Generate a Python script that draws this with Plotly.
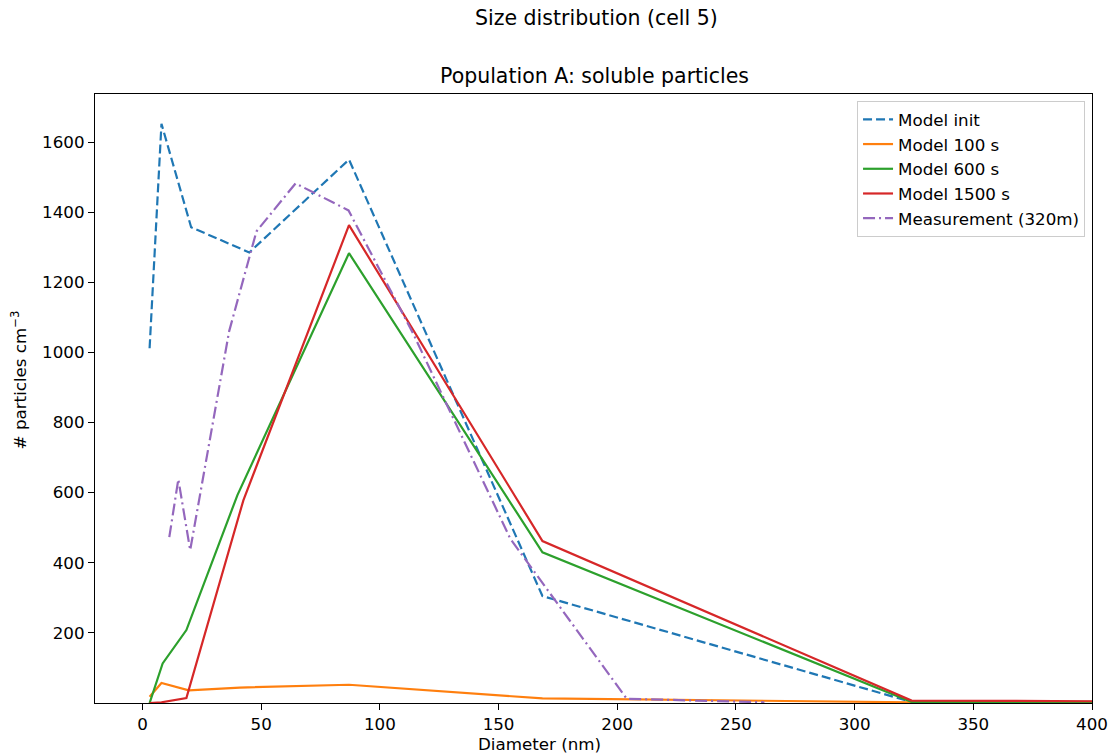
import plotly.graph_objects as go

# Data (diameter in nm, number concentration in particles cm^-3)
init_x = [3, 8, 20.5, 45, 87, 168.5, 324, 400]
init_y = [1012, 1652, 1357, 1285, 1550, 305, 3, 1]

m100_x = [3, 8, 19.5, 41, 87, 168.5, 324, 400]
m100_y = [18, 57, 36, 44, 52, 13, 2, 1]

m600_x = [3, 8.5, 18.5, 40, 87, 168.5, 324, 400]
m600_y = [0, 113, 208, 593, 1283, 430, 3, 3]

m1500_x = [3, 8, 18.5, 42.5, 87, 168.5, 324, 400]
m1500_y = [0, 2, 14, 578, 1363, 462, 7, 5]

meas_x = [11.3, 15.1, 20.1, 36.5, 48, 64.5, 86.8, 114, 155, 204, 262]
meas_y = [473, 638, 436, 1060, 1345, 1482, 1405, 1054, 468, 12, 2]

x_ticks = [0, 50, 100, 150, 200, 250, 300, 350, 400]
y_ticks = [200, 400, 600, 800, 1000, 1200, 1400, 1600]

FONT = "DejaVu Sans"
TICK = 16.7
TITLE = 20.5

L, R, T, B = 95, 23, 94, 53
W, H = 1120, 756
PW, PH = W - L - R, H - T - B


def px(xp):
    return (xp - L) / PW


def py(yp):
    return (H - B - yp) / PH


fig = go.Figure()
fig.add_trace(go.Scatter(x=init_x, y=init_y, mode="lines", name="Model init",
                         line=dict(color="#1f77b4", width=2.2, dash="9px,4px")))
fig.add_trace(go.Scatter(x=m100_x, y=m100_y, mode="lines", name="Model 100 s",
                         line=dict(color="#ff7f0e", width=2.2)))
fig.add_trace(go.Scatter(x=m600_x, y=m600_y, mode="lines", name="Model 600 s",
                         line=dict(color="#2ca02c", width=2.2)))
fig.add_trace(go.Scatter(x=m1500_x, y=m1500_y, mode="lines", name="Model 1500 s",
                         line=dict(color="#d62728", width=2.2)))
fig.add_trace(go.Scatter(x=meas_x, y=meas_y, mode="lines", name="Measurement (320m)",
                         line=dict(color="#9467bd", width=2.2, dash="12px,4px,2px,4px")))

axis_common = dict(showline=True, linecolor="black", linewidth=1.2, mirror=True,
                   ticks="outside", ticklen=6, tickcolor="black", tickwidth=1.2,
                   showgrid=False, zeroline=False,
                   tickfont=dict(family=FONT, size=TICK, color="black"))

fig.update_layout(
    width=W, height=H,
    margin=dict(l=L, r=R, t=T, b=B),
    paper_bgcolor="white", plot_bgcolor="white",
    font=dict(family=FONT, color="black"),
    xaxis=dict(range=[-20, 400], tickvals=x_ticks, **axis_common),
    yaxis=dict(range=[0, 1737], tickvals=y_ticks, **axis_common),
    legend=dict(x=px(1090), y=py(101), xanchor="right", yanchor="top",
                bgcolor="rgba(255,255,255,0.8)", bordercolor="#cccccc", borderwidth=1,
                font=dict(family=FONT, size=TICK), tracegroupgap=0),
    showlegend=True,
    annotations=[
        dict(text="Size distribution (cell 5)", xref="paper", yref="paper",
             x=px(599), y=py(18), xanchor="center", yanchor="middle",
             showarrow=False, font=dict(family=FONT, size=TITLE)),
        dict(text="Population A: soluble particles", xref="paper", yref="paper",
             x=px(597), y=py(76), xanchor="center", yanchor="middle",
             showarrow=False, font=dict(family=FONT, size=TITLE)),
        dict(text="Diameter (nm)", xref="paper", yref="paper",
             x=px(542), y=py(744), xanchor="center", yanchor="middle",
             showarrow=False, font=dict(family=FONT, size=TICK)),
        dict(text="# particles cm<sup>−3</sup>", xref="paper", yref="paper",
             x=px(19), y=py(380), xanchor="center", yanchor="middle", textangle=-90,
             showarrow=False, font=dict(family=FONT, size=TICK)),
    ],
)

fig.write_html("out.html")
